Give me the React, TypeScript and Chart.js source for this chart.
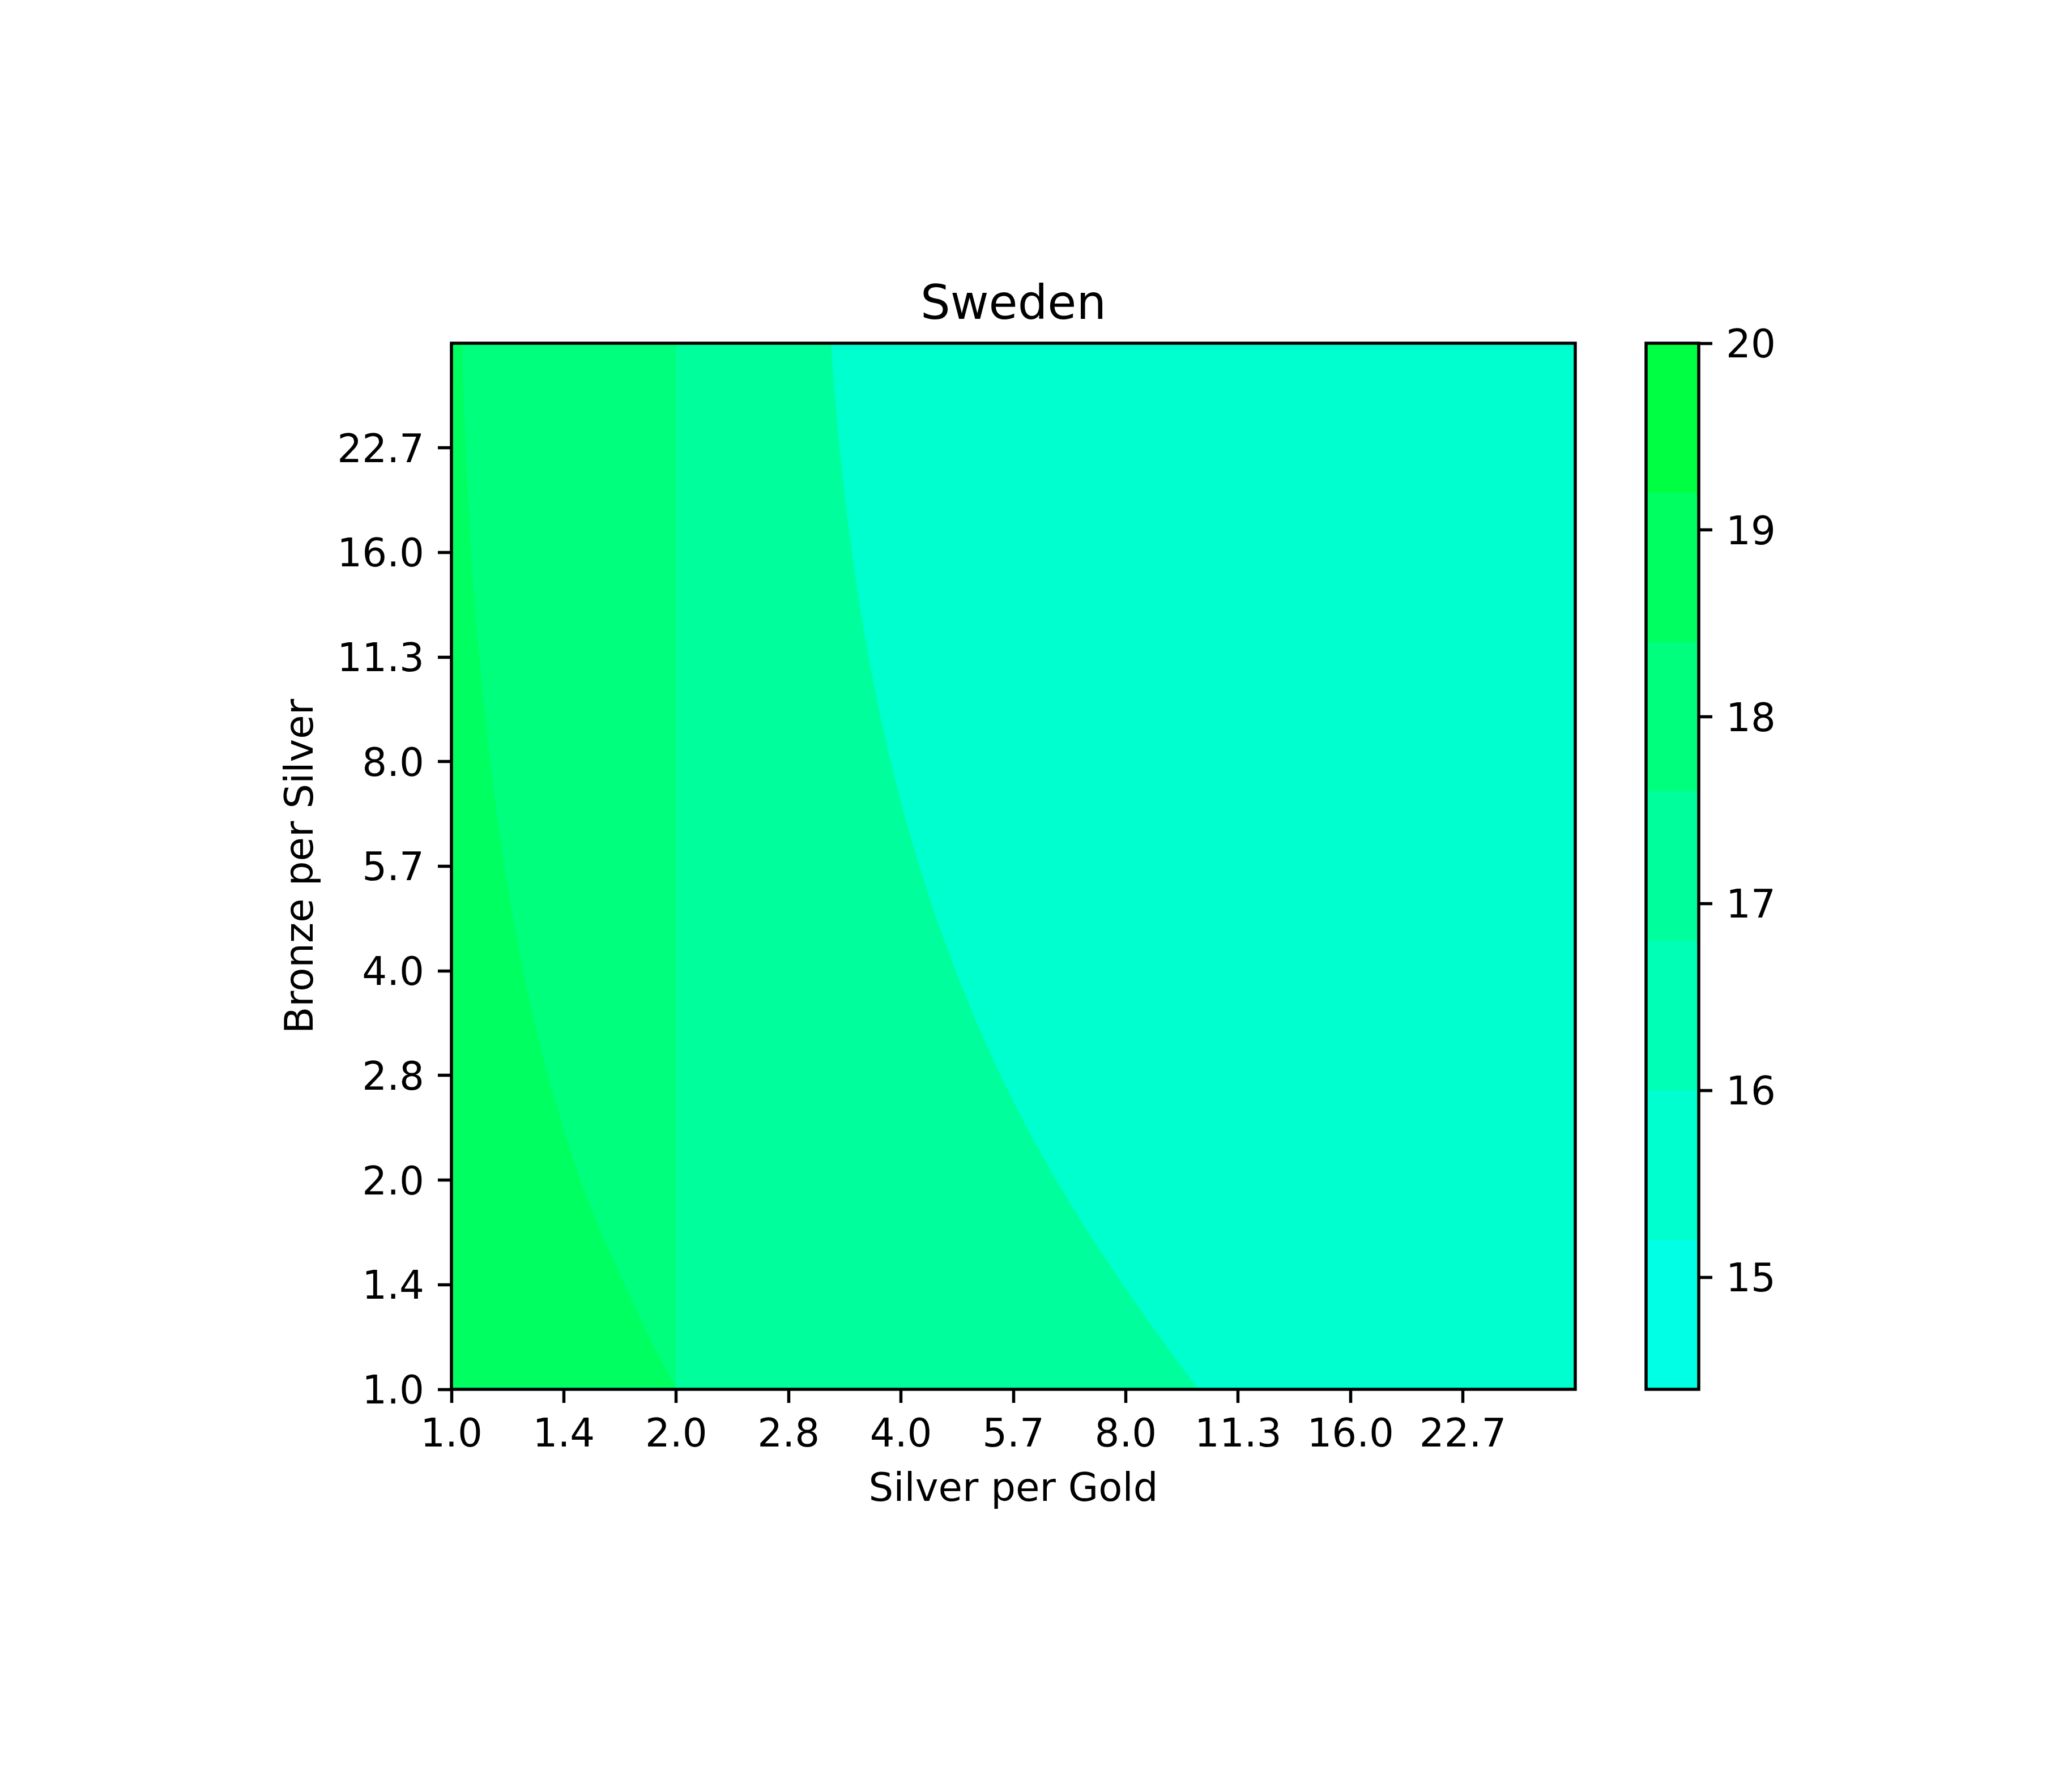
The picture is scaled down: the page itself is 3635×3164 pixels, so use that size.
import { useEffect, useRef } from 'react';
import { Chart, registerables } from 'chart.js';

Chart.register(...registerables);

// ---------------- data ----------------
const TITLE = 'Sweden';
const X_LABEL = 'Silver per Gold';
const Y_LABEL = 'Bronze per Silver';

// axes are log2 of the ratio, 0 .. 5 (ratio 1 .. 32)
const AXIS_MIN = 0;
const AXIS_MAX = 5;
const AXIS_TICKS = [0, 0.5, 1, 1.5, 2, 2.5, 3, 3.5, 4, 4.5];
const X_TICK_LABELS = ['1.0', '1.4', '2.0', '2.8', '4.0', '5.7', '8.0', '11.3', '16.0', '22.7'];
const Y_TICK_LABELS = ['1.0', '1.4', '2.0', '2.8', '4.0', '5.7', '8.0', '11.3', '16.0', '22.7'];

// contour levels and colours of each band
const LEVELS = [14.4, 15.2, 16.0, 16.8, 17.6, 18.4, 19.2, 20.0];
const BAND_COLORS = [
  'rgb(0,255,228)',
  'rgb(0,255,206)',
  'rgb(0,255,182)',
  'rgb(0,255,156)',
  'rgb(0,255,124)',
  'rgb(0,255,96)',
  'rgb(0,255,66)',
];
const CBAR_TICKS = [15, 16, 17, 18, 19, 20];

// rank regions: each region spans x (log2 silver/gold) from the left edge to its edge curve
const REGION_RANKS = [16, 17, 18, 19];

const RANK16_EDGE_X = [5, 5];
const RANK16_EDGE_Y = [5, 0];

const EDGE_Y = [5, 4.75, 4.5, 4.25, 4, 3.75, 3.5, 3.25, 3, 2.75, 2.5, 2.25, 2, 1.75, 1.5, 1.25, 1, 0.75, 0.5, 0.25, 0];

const RANK17_EDGE_X = [1.689, 1.706, 1.727, 1.752, 1.782, 1.816, 1.856, 1.902, 1.954, 2.014, 2.082, 2.158, 2.243, 2.338, 2.443, 2.56, 2.69, 2.833, 2.987, 3.152, 3.322];
const RANK17_EDGE_Y = EDGE_Y;

const RANK18_EDGE_X = [1, 1];
const RANK18_EDGE_Y = [5, 0];

const RANK19_EDGE_X = [0.047, 0.054, 0.063, 0.074, 0.087, 0.103, 0.124, 0.146, 0.172, 0.201, 0.235, 0.274, 0.318, 0.37, 0.427, 0.497, 0.573, 0.664, 0.77, 0.88, 1.0];
const RANK19_EDGE_Y = EDGE_Y;

const REGION_EDGES_X = [RANK16_EDGE_X, RANK17_EDGE_X, RANK18_EDGE_X, RANK19_EDGE_X];
const REGION_EDGES_Y = [RANK16_EDGE_Y, RANK17_EDGE_Y, RANK18_EDGE_Y, RANK19_EDGE_Y];

// ---------------- style / layout ----------------
const W = 3635;
const H = 3164;
const FONT = 'DejaVu Sans';
const TICK_SIZE = 69;
const TITLE_SIZE = 83;
const LINE_W = 5.5;
const TICK_LEN = 24;

function bandColor(v: number): string {
  for (let i = 0; i < LEVELS.length - 1; i++) {
    if (v > LEVELS[i] && v <= LEVELS[i + 1]) return BAND_COLORS[i];
  }
  return BAND_COLORS[0];
}

const framePlugin = {
  id: 'frame',
  afterDraw(chart: any) {
    const { ctx, chartArea: a } = chart;
    ctx.save();
    ctx.strokeStyle = '#000';
    ctx.lineWidth = LINE_W;
    ctx.lineJoin = 'miter';
    ctx.strokeRect(a.left, a.top, a.right - a.left, a.bottom - a.top);
    ctx.restore();
  },
};

const tickFont = { family: FONT, size: TICK_SIZE, weight: 'normal' as const };
const gridOpts = {
  display: true,
  drawOnChartArea: false,
  drawTicks: true,
  tickLength: TICK_LEN,
  tickWidth: LINE_W,
  tickColor: '#000',
};

export default function App() {
  const mainRef = useRef<HTMLCanvasElement | null>(null);
  const cbarRef = useRef<HTMLCanvasElement | null>(null);

  useEffect(() => {
    if (!mainRef.current || !cbarRef.current) return;

    const datasets = REGION_RANKS.map((rank, r) => {
      const ex = REGION_EDGES_X[r];
      const ey = REGION_EDGES_Y[r];
      const pts = [{ x: AXIS_MIN, y: ey[0] }, ...ex.map((x, i) => ({ x, y: ey[i] }))];
      const color = bandColor(rank);
      return {
        label: 'Rank ' + rank,
        data: pts,
        backgroundColor: color,
        borderColor: 'rgba(0,0,0,0)',
        borderWidth: 0,
        pointRadius: 0,
        pointHoverRadius: 0,
        tension: 0,
        fill: 'start',
        order: 20 - rank,
      };
    });

    const main = new Chart(mainRef.current, {
      type: 'line',
      data: { datasets: datasets as any },
      options: {
        animation: false,
        responsive: false,
        devicePixelRatio: 1,
        layout: { padding: { left: 0, right: 854, top: 0, bottom: 411 } },
        plugins: {
          legend: { display: false },
          tooltip: { enabled: false },
          title: {
            display: true,
            text: TITLE,
            fullSize: false,
            color: '#000',
            font: { family: FONT, size: TITLE_SIZE, weight: 'normal' },
            padding: { top: 491.9, bottom: 14.5 },
          },
        },
        scales: {
          x: {
            type: 'linear',
            min: AXIS_MIN,
            max: AXIS_MAX,
            afterBuildTicks: (s: any) => {
              s.ticks = AXIS_TICKS.map((v) => ({ value: v }));
            },
            afterFit: (s: any) => {
              s.height = 300;
            },
            ticks: {
              autoSkip: false,
              maxRotation: 0,
              minRotation: 0,
              color: '#000',
              font: tickFont,
              padding: 18,
              callback: (_v: any, i: number) => X_TICK_LABELS[i],
            },
            grid: gridOpts,
            border: { display: false },
            title: {
              display: true,
              text: X_LABEL,
              color: '#000',
              font: tickFont,
              padding: { top: 0, bottom: 79.6 },
            },
          },
          y: {
            type: 'linear',
            min: AXIS_MIN,
            max: AXIS_MAX,
            afterBuildTicks: (s: any) => {
              s.ticks = AXIS_TICKS.map((v) => ({ value: v }));
            },
            afterFit: (s: any) => {
              s.width = 797;
            },
            ticks: {
              autoSkip: false,
              color: '#000',
              font: tickFont,
              padding: 24,
              labelOffset: 7,
              callback: (_v: any, i: number) => Y_TICK_LABELS[i],
            },
            grid: gridOpts,
            border: { display: false },
            title: {
              display: true,
              text: Y_LABEL,
              color: '#000',
              font: tickFont,
              padding: { top: 492.3, bottom: 0 },
            },
          },
        },
      },
      plugins: [framePlugin],
    });

    const cbar = new Chart(cbarRef.current, {
      type: 'bar',
      data: {
        labels: [''],
        datasets: BAND_COLORS.map((c, i) => ({
          label: LEVELS[i] + '-' + LEVELS[i + 1],
          data: [[LEVELS[i], LEVELS[i + 1]]],
          backgroundColor: c,
          borderWidth: 0,
          grouped: false,
          barPercentage: 1,
          categoryPercentage: 1,
        })) as any,
      },
      options: {
        animation: false,
        responsive: false,
        devicePixelRatio: 1,
        layout: { padding: { left: 2906, right: 336, top: 606, bottom: 711 } },
        plugins: {
          legend: { display: false },
          tooltip: { enabled: false },
          title: { display: false },
        },
        scales: {
          x: { display: false },
          y: {
            type: 'linear',
            position: 'right',
            min: LEVELS[0],
            max: LEVELS[LEVELS.length - 1],
            afterBuildTicks: (s: any) => {
              s.ticks = CBAR_TICKS.map((v) => ({ value: v }));
            },
            afterFit: (s: any) => {
              s.width = 300;
            },
            ticks: {
              autoSkip: false,
              color: '#000',
              font: tickFont,
              padding: 24,
              labelOffset: 7,
              callback: (v: any) => String(v),
            },
            grid: gridOpts,
            border: { display: false },
          },
        },
      },
      plugins: [framePlugin],
    });

    return () => {
      main.destroy();
      cbar.destroy();
    };
  }, []);

  return (
    <div style={{ position: 'absolute', left: 0, top: 0, width: W, height: H, background: '#fff' }}>
      <canvas ref={mainRef} width={W} height={H} style={{ position: 'absolute', left: 0, top: 0 }} />
      <canvas ref={cbarRef} width={W} height={H} style={{ position: 'absolute', left: 0, top: 0 }} />
    </div>
  );
}
